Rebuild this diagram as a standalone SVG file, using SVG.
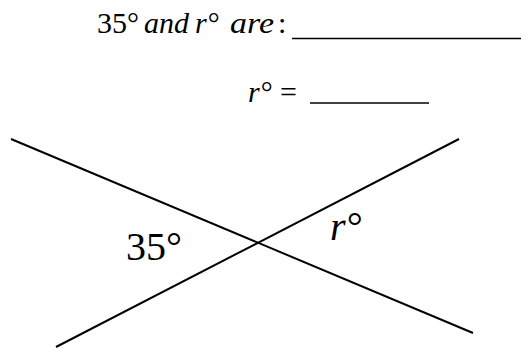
<svg xmlns="http://www.w3.org/2000/svg" width="523" height="348" viewBox="0 0 523 348">
<style>
.t{font-family:"Liberation Serif","DejaVu Serif",serif;fill:#000}
.i{font-style:italic}
.q{font-size:30px}
.lb{font-size:40px}
.ln{stroke:#000;stroke-width:2;fill:none}
.ul{stroke:#000;stroke-width:1.5}
</style>
<rect width="523" height="348" fill="#fff"/>
<g id="question1">
<text class="t q" x="97" y="33">35°</text>
<text class="t q i" x="144" y="33">and</text>
<text class="t q i" x="195" y="33">r°</text>
<text class="t q i" x="230" y="33" textLength="44" lengthAdjust="spacingAndGlyphs">are</text>
<text class="t q" x="278" y="33">:</text>
<line class="ul" x1="292" y1="38.5" x2="521" y2="38.5"/>
</g>
<g id="question2">
<text class="t q i" x="248" y="102">r°</text>
<text class="t q" x="280" y="102">=</text>
<line class="ul" x1="310" y1="103" x2="429" y2="103"/>
</g>
<g id="connectors">
<line class="ln" x1="11" y1="139" x2="473" y2="333"/>
<line class="ln" x1="56" y1="347" x2="459" y2="139"/>
</g>
<g id="label-35">
<text class="t lb" x="126" y="260">35°</text>
</g>
<g id="label-r">
<text class="t lb i" x="330" y="240">r°</text>
</g>
</svg>
